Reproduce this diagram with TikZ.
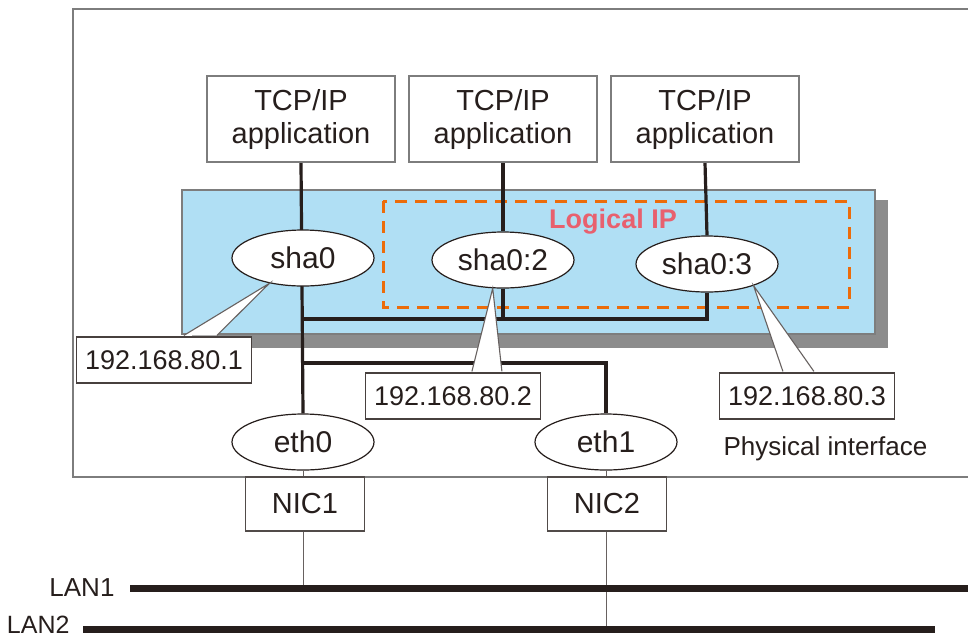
\documentclass[tikz,border=0pt]{standalone}
\usepackage{fontspec}
\setmainfont{Liberation Sans}
\usepackage{xcolor}
\usetikzlibrary{shapes.geometric, positioning, calc}
\definecolor{NetInk}{RGB}{38,30,28}
\definecolor{NetFrame}{RGB}{125,125,125}
\definecolor{NetBlue}{RGB}{176,223,244}
\definecolor{NetShadow}{RGB}{140,140,140}
\definecolor{NetOrange}{RGB}{236,108,10}
\definecolor{NetPink}{RGB}{232,96,110}
\pgfdeclarelayer{back}
\pgfdeclarelayer{wires}
\pgfsetlayers{back,wires,main}

\begin{document}
\begin{tikzpicture}[x=1pt,y=-1pt,
  every node/.style={text=NetInk},
  appbox/.style={draw=NetFrame, line width=1.5pt, fill=white, minimum width=188pt,
    minimum height=86pt, inner sep=0pt, align=center, font=\fontsize{29}{33}\selectfont},
  ifnode/.style={ellipse, draw=NetInk, line width=1.2pt, fill=white, minimum width=142pt,
    minimum height=56pt, inner sep=0pt, font=\fontsize{30}{32}\selectfont},
  nicbox/.style={draw=NetInk!80, line width=1.2pt, fill=white, minimum width=119pt,
    minimum height=54pt, inner sep=0pt, font=\fontsize{29}{32}\selectfont},
  ipbox/.style={draw=NetInk!85, line width=1.2pt, fill=white, minimum width=175pt,
    minimum height=46pt, inner sep=0pt, font=\fontsize{27}{30}\selectfont},
  wire/.style={draw=NetInk, line width=3.2pt},
  nicline/.style={draw=NetInk!70, line width=1pt},
  lanline/.style={draw=NetInk, line width=7pt},
  callline/.style={draw=NetInk!70, line width=1.1pt, fill=white, line join=miter}]
  \path[use as bounding box] (0,0) rectangle (968,638);

  % host and shared interface area
  \begin{pgfonlayer}{back}
    \fill[white] (0,0) rectangle (968,638);
    \draw[NetFrame, line width=2pt] (73,9) rectangle (990,477);
    \fill[NetShadow] (192,200) rectangle (888,348);
    \draw[NetFrame, line width=1.5pt, fill=NetBlue] (182,190) rectangle (875,334);
    \draw[NetOrange, line width=3pt, dash pattern=on 12pt off 8pt] (383,201) rectangle (849,307);
  \end{pgfonlayer}
  \node[font=\fontsize{27}{30}\selectfont\bfseries, text=NetPink] (logip) at (613,222) {Logical IP};

  % applications
  \node[appbox] (app1) at (301,119) {TCP/IP\\application};
  \node[appbox] (app2) at (503,119) {TCP/IP\\application};
  \node[appbox] (app3) at (705,119) {TCP/IP\\application};

  % virtual and physical interfaces
  \node[ifnode] (sha0)  at (303,258) {sha0};
  \node[ifnode] (sha02) at (503,260) {sha0:2};
  \node[ifnode] (sha03) at (707,264) {sha0:3};
  \node[ifnode] (eth0)  at (303,442) {eth0};
  \node[ifnode] (eth1)  at (606,442) {eth1};
  \node[anchor=west, font=\fontsize{26}{30}\selectfont] (physlbl) at (720,449) {Physical interface};

  \node[nicbox] (nic1) at (305,504) {NIC1};
  \node[nicbox] (nic2) at (607,504) {NIC2};

  \coordinate (bus1) at (303,319);
  \coordinate (bus2) at (303,363);
  \coordinate (lan1w) at (130,588);
  \coordinate (lan1e) at (968,588);
  \coordinate (lan2w) at (83,629);
  \coordinate (lan2e) at (935,629);

  \begin{pgfonlayer}{wires}
    \draw[wire] (app1.south) -- (eth0.north);
    \draw[wire] (app2.south) -- (sha02.north);
    \draw[wire] (app3.south) -- (sha03.north);
    \draw[wire] (sha02.south) -- (sha02.south |- bus1);
    \draw[wire] (bus1) -| (sha03.south);
    \draw[wire] (bus2) -| (eth1.north);
    \draw[nicline] (eth0.south) -- (nic1.north -| eth0.south);
    \draw[nicline] (eth1.south) -- (nic2.north -| eth1.south);
    \draw[nicline] (nic1.south -| eth0.south) -- (lan1w -| eth0.south);
    \draw[nicline] (nic2.south -| eth1.south) -- (lan2w -| eth1.south);
  \end{pgfonlayer}

  % LANs
  \draw[lanline] (lan1w) -- (lan1e);
  \draw[lanline] (lan2w) -- (lan2e);
  \node[anchor=east, font=\fontsize{26}{30}\selectfont] (lan1) at ([xshift=-12pt]lan1w) {LAN1};
  \node[anchor=east, font=\fontsize{25}{28}\selectfont] (lan2) at ([xshift=-10pt,yshift=4pt]lan2w) {LAN2};

  % address callouts
  \node[ipbox] (ip1) at (164,360) {192.168.80.1};
  \node[ipbox] (ip2) at (453,396) {192.168.80.2};
  \node[ipbox] (ip3) at (807,396) {192.168.80.3};
  \draw[callline] ([xshift=108pt,yshift=1pt]ip1.north west) -- (sha0.217)
    -- ([xshift=141pt,yshift=1pt]ip1.north west);
  \draw[callline] ([xshift=107pt,yshift=1pt]ip2.north west) -- (sha02.250)
    -- ([xshift=137pt,yshift=1pt]ip2.north west);
  \draw[callline] ([xshift=64pt,yshift=1pt]ip3.north west) -- (sha03.335)
    -- ([xshift=95pt,yshift=1pt]ip3.north west);
\end{tikzpicture}
\end{document}
